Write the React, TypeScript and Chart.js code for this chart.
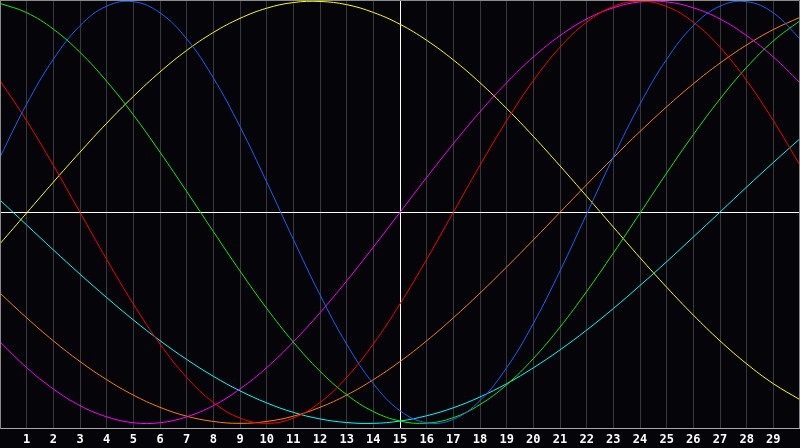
import React, { useEffect, useRef } from 'react';
import Chart from 'chart.js/auto';

// days along the x axis (0 .. 30)
const DAYS = [0, 1, 2, 3, 4, 5, 6, 7, 8, 9, 10, 11, 12, 13, 14, 15, 16, 17, 18, 19, 20, 21, 22, 23, 24, 25, 26, 27, 28, 29, 30];
const TICK_LABELS = ['1', '2', '3', '4', '5', '6', '7', '8', '9', '10', '11', '12', '13', '14', '15', '16', '17', '18', '19', '20', '21', '22', '23', '24', '25', '26', '27', '28', '29'];

// cycle values, one per day
const PHYSICAL = [0.262, 0.513, 0.725, 0.884, 0.977, 0.998, 0.945, 0.822, 0.637, 0.406, 0.144, -0.128, -0.391, -0.625, -0.812, -0.940, -0.997, -0.981, -0.892, -0.736, -0.527, -0.278, -0.008, 0.262, 0.513, 0.725, 0.884, 0.977, 0.998, 0.945, 0.822];
const EMOTIONAL = [0.624, 0.434, 0.223, 0, -0.223, -0.434, -0.624, -0.782, -0.901, -0.975, -1, -0.975, -0.901, -0.782, -0.624, -0.434, -0.223, 0, 0.223, 0.434, 0.624, 0.782, 0.901, 0.975, 1, 0.975, 0.901, 0.782, 0.624, 0.434, 0.223];
const INTELLECTUAL = [0.990, 0.946, 0.868, 0.758, 0.621, 0.462, 0.285, 0.099, -0.091, -0.278, -0.455, -0.615, -0.753, -0.864, -0.944, -0.989, -0.999, -0.973, -0.911, -0.817, -0.693, -0.544, -0.375, -0.193, -0.004, 0.186, 0.368, 0.537, 0.687, 0.812, 0.908];
const INTUITIVE = [-0.614, -0.736, -0.837, -0.916, -0.969, -0.997, -0.997, -0.969, -0.916, -0.837, -0.736, -0.614, -0.476, -0.325, -0.165, 0, 0.165, 0.325, 0.476, 0.614, 0.736, 0.837, 0.916, 0.969, 0.997, 0.997, 0.969, 0.916, 0.837, 0.736, 0.614];
const AESTHETIC = [-0.149, -0.003, 0.143, 0.285, 0.422, 0.549, 0.665, 0.767, 0.852, 0.919, 0.967, 0.994, 0.999, 0.984, 0.947, 0.891, 0.815, 0.722, 0.614, 0.492, 0.360, 0.220, 0.076, -0.070, -0.215, -0.355, -0.487, -0.609, -0.718, -0.812, -0.888];
const AWARENESS = [-0.383, -0.5, -0.609, -0.707, -0.793, -0.866, -0.924, -0.966, -0.991, -1, -0.991, -0.966, -0.924, -0.866, -0.793, -0.707, -0.609, -0.5, -0.383, -0.259, -0.131, 0, 0.131, 0.259, 0.383, 0.5, 0.609, 0.707, 0.793, 0.866, 0.924];
const SPIRITUAL = [0.058, -0.060, -0.178, -0.293, -0.404, -0.510, -0.608, -0.697, -0.777, -0.846, -0.903, -0.948, -0.979, -0.996, -1.0, -0.989, -0.964, -0.926, -0.875, -0.812, -0.737, -0.652, -0.558, -0.456, -0.347, -0.234, -0.117, 0.001, 0.120, 0.236, 0.349];

const SERIES = [
  { label: 'Physical', data: PHYSICAL, color: '#1464ff' },
  { label: 'Emotional', data: EMOTIONAL, color: '#ff0000' },
  { label: 'Intellectual', data: INTELLECTUAL, color: '#10ee10' },
  { label: 'Intuitive', data: INTUITIVE, color: '#ff00ff' },
  { label: 'Aesthetic', data: AESTHETIC, color: '#ffff00' },
  { label: 'Awareness', data: AWARENESS, color: '#ff8000' },
  { label: 'Spiritual', data: SPIRITUAL, color: '#00ffff' },
];

const BG = '#050408';

// gray frame on top / right / left of the plot
const framePlugin = {
  id: 'frame',
  afterDraw(chart: any) {
    const { ctx, chartArea: a } = chart;
    ctx.save();
    ctx.strokeStyle = '#8a8a8a';
    ctx.lineWidth = 1;
    ctx.beginPath();
    ctx.moveTo(a.left + 0.5, a.bottom);
    ctx.lineTo(a.left + 0.5, a.top + 0.5);
    ctx.lineTo(a.right - 0.5, a.top + 0.5);
    ctx.lineTo(a.right - 0.5, a.bottom);
    ctx.stroke();
    ctx.restore();
  },
};

const App: React.FC = () => {
  const canvasRef = useRef<HTMLCanvasElement>(null);
  const chartRef = useRef<Chart | null>(null);

  useEffect(() => {
    document.body.style.margin = '0';
    document.body.style.background = BG;
    if (!canvasRef.current) return;

    chartRef.current = new Chart(canvasRef.current, {
      type: 'line',
      data: {
        datasets: SERIES.map(s => ({
          label: s.label,
          data: s.data.map((v, i) => ({ x: DAYS[i], y: v })),
          borderColor: s.color,
          backgroundColor: s.color,
          borderWidth: 1,
          pointRadius: 0,
          pointHoverRadius: 0,
          tension: 0.4,
          fill: false,
        })),
      },
      options: {
        animation: false,
        responsive: true,
        maintainAspectRatio: false,
        layout: { padding: 0, autoPadding: false },
        plugins: { legend: { display: false }, tooltip: { enabled: false } },
        scales: {
          x: {
            type: 'linear',
            min: 0,
            max: 30,
            afterFit: (scale: any) => {
              scale.height = 20;
              scale.paddingLeft = 0;
              scale.paddingRight = 0;
            },
            border: { color: '#a8a8a8' },
            grid: {
              drawTicks: false,
              color: (c: any) => (c.tick && c.tick.value === 15 ? '#ffffff' : '#38383c'),
            },
            ticks: {
              stepSize: 1,
              autoSkip: false,
              maxRotation: 0,
              padding: 5,
              color: '#ffffff',
              font: { family: 'DejaVu Sans Mono', size: 12, weight: 'bold' },
              callback: (v: any) => (v >= 1 && v <= 29 ? TICK_LABELS[v - 1] : ''),
            },
          },
          y: {
            min: -1.022,
            max: 1.006,
            afterFit: (scale: any) => {
              scale.width = 0;
              scale.paddingTop = 0;
              scale.paddingBottom = 0;
            },
            border: { color: '#8a8a8a' },
            grid: {
              drawTicks: false,
              color: (c: any) => (c.tick && c.tick.value === 0 ? '#ffffff' : 'transparent'),
            },
            ticks: { display: false, stepSize: 0.5 },
          },
        },
      },
      plugins: [framePlugin],
    });

    return () => {
      if (chartRef.current) chartRef.current.destroy();
    };
  }, []);

  return (
    <div style={{ width: 800, height: 448, background: BG, position: 'relative' }}>
      <canvas ref={canvasRef}></canvas>
    </div>
  );
};

export default App;
